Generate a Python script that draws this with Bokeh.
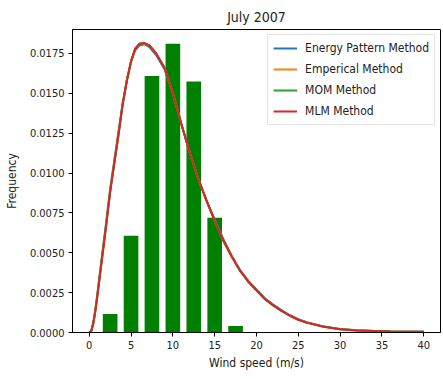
from bokeh.plotting import figure
from bokeh.embed import file_html
from bokeh.resources import INLINE
from bokeh.models import FixedTicker, NumeralTickFormatter, Range1d, Legend, LegendItem

# ---- data ----
bin_centers = [2.5, 5.0, 7.5, 10.0, 12.5, 15.0, 17.5]
bin_heights = [0.00116, 0.00606, 0.01609, 0.0181, 0.01574, 0.00719, 0.0004]

wind = [0, 0.25, 0.5, 0.75, 1.0, 1.5, 2.0, 2.5, 3.0, 3.5, 4.0, 4.5, 5.0, 5.5, 6.0,
        6.6, 7.2, 8.0, 9.0, 10.0, 11.0, 12.0, 13.0, 14.0, 15.0, 16.0, 17.0, 18.0,
        19.0, 20.0, 21.0, 22.0, 23.0, 24.0, 25.0, 26.0, 28.0, 30.0, 32.0, 34.0,
        36.0, 38.0, 40.0]

energy_pattern = [0, 0.0001, 0.0007, 0.0015, 0.0025, 0.0047, 0.0068, 0.0090, 0.0108,
                  0.0126, 0.0144, 0.0158, 0.0170, 0.0177, 0.0180, 0.01808, 0.0179,
                  0.0174, 0.0165, 0.0150, 0.0131, 0.0113, 0.0097, 0.0083, 0.0071,
                  0.0059, 0.00485, 0.00395, 0.00325, 0.0027, 0.00215, 0.00175, 0.0014,
                  0.00108, 0.00083, 0.00064, 0.00038, 0.00022, 0.00014, 0.00010,
                  0.00007, 0.00005, 0.00004]

emperical = [0, 0.0001, 0.0006, 0.0015, 0.0025, 0.0046, 0.0067, 0.0089, 0.0107,
             0.0125, 0.0143, 0.0158, 0.0170, 0.0178, 0.0181, 0.0181, 0.0180,
             0.0175, 0.0166, 0.0150, 0.0131, 0.0113, 0.0097, 0.0083, 0.0070,
             0.0058, 0.0048, 0.0039, 0.0032, 0.00265, 0.0021, 0.0017, 0.00135,
             0.00105, 0.00081, 0.00063, 0.00037, 0.00021, 0.00014, 0.00009,
             0.00006, 0.00005, 0.00004]

mom = [0, 0.0001, 0.0006, 0.0014, 0.0024, 0.0045, 0.0066, 0.0088, 0.0106,
       0.0124, 0.0143, 0.0158, 0.0170, 0.0178, 0.0181, 0.01815, 0.0180,
       0.0175, 0.0166, 0.0150, 0.0131, 0.0113, 0.0097, 0.0083, 0.0070,
       0.0058, 0.0048, 0.0039, 0.0032, 0.00265, 0.0021, 0.0017, 0.00135,
       0.00105, 0.00080, 0.00062, 0.00037, 0.00020, 0.00013, 0.00009,
       0.00006, 0.00005, 0.00004]

mlm = [0, 0.0001, 0.0006, 0.0014, 0.0024, 0.0045, 0.0066, 0.0088, 0.0106,
       0.0124, 0.0143, 0.0158, 0.0170, 0.0178, 0.0181, 0.01815, 0.0180,
       0.0175, 0.0166, 0.0150, 0.0131, 0.0113, 0.0097, 0.0083, 0.0070,
       0.0058, 0.0048, 0.0039, 0.0032, 0.00265, 0.0021, 0.0017, 0.00135,
       0.00105, 0.00080, 0.00062, 0.00036, 0.00020, 0.00013, 0.00009,
       0.00006, 0.00005, 0.00004]

x_ticks = [0, 5, 10, 15, 20, 25, 30, 35, 40]
y_ticks = [0.0, 0.0025, 0.005, 0.0075, 0.01, 0.0125, 0.015, 0.0175]

FONT = "DejaVu Sans Condensed"
TXT = "#222222"

p = figure(width=443, height=379, output_backend="svg", toolbar_location=None,
           x_range=Range1d(-2, 42), y_range=Range1d(0, 0.0190),
           min_border_left=72, min_border_right=3, min_border_top=29,
           min_border_bottom=47, title="July 2007")

p.title.align = "center"
p.title.text_font = FONT
p.title.text_font_size = "14px"
p.title.text_font_style = "normal"
p.title.text_color = TXT

p.vbar(x=bin_centers, top=bin_heights, width=1.75, bottom=0,
       fill_color="#008000", line_color=None)

series = [("Energy Pattern Method", energy_pattern, "#1f77b4"),
          ("Emperical Method", emperical, "#ff7f0e"),
          ("MOM Method", mom, "#2ca02c"),
          ("MLM Method", mlm, "#d62728")]
items = []
for name, ys, col in series:
    r = p.line(wind, ys, line_color=col, line_width=2)
    items.append(LegendItem(label=name, renderers=[r]))

leg = Legend(items=items, location="top_right")
leg.margin = 5
leg.padding = 5
leg.spacing = 5
leg.label_height = 16
leg.glyph_height = 16
leg.glyph_width = 24
leg.label_standoff = 8
leg.label_text_font = FONT
leg.label_text_font_size = "12px"
leg.label_text_color = TXT
leg.border_line_color = "#cccccc"
leg.border_line_width = 1
leg.background_fill_color = "white"
leg.background_fill_alpha = 0.8
p.add_layout(leg)

p.grid.visible = False
p.outline_line_color = "black"
p.outline_line_width = 1

for ax in (p.xaxis[0], p.yaxis[0]):
    ax.axis_line_color = "black"
    ax.major_tick_line_color = "black"
    ax.major_tick_in = 0
    ax.major_tick_out = 4
    ax.minor_tick_line_color = None
    ax.major_label_text_font = FONT
    ax.major_label_text_font_size = "11px"
    ax.major_label_text_color = TXT
    ax.axis_label_text_font = FONT
    ax.axis_label_text_font_size = "12px"
    ax.axis_label_text_font_style = "normal"
    ax.axis_label_text_color = TXT

p.xaxis.ticker = FixedTicker(ticks=x_ticks)
p.yaxis.ticker = FixedTicker(ticks=y_ticks)
p.yaxis.formatter = NumeralTickFormatter(format="0.0000")
p.xaxis.axis_label = "Wind speed (m/s)"
p.yaxis.axis_label = "Frequency"
p.xaxis.major_label_standoff = 4
p.yaxis.major_label_standoff = 4
p.xaxis.axis_label_standoff = 4
p.yaxis.axis_label_standoff = 8

open("out.html", "w").write(file_html(p, INLINE))
